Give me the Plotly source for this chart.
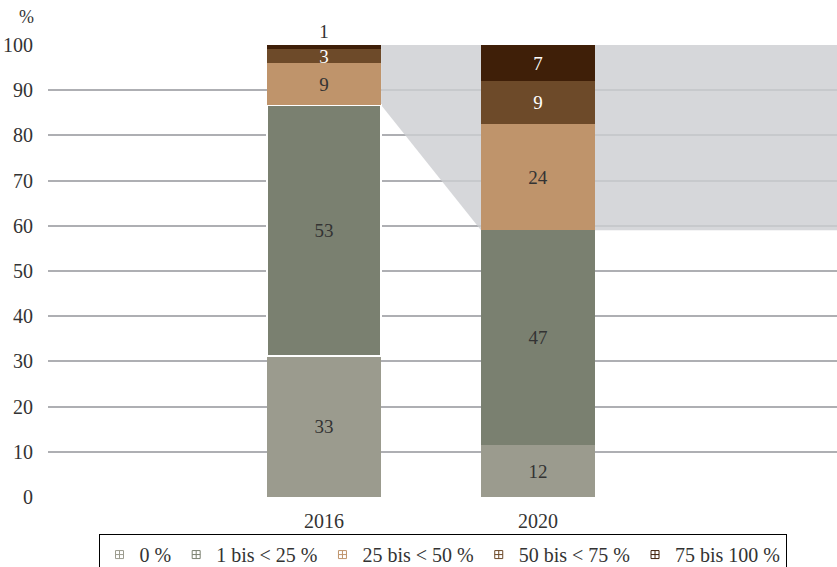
import plotly.graph_objects as go

years = ["2016", "2020"]
series_names = ["0 %", "1 bis < 25 %", "25 bis < 50 %", "50 bis < 75 %", "75 bis 100 %"]
# segment heights in %
heights = {
    "0 %": [31.2, 11.5],
    "1 bis < 25 %": [55.5, 47.5],
    "25 bis < 50 %": [9.3, 23.5],
    "50 bis < 75 %": [3.1, 9.5],
    "75 bis 100 %": [0.9, 8.0],
}
# printed labels
labels = {
    "0 %": [33, 12],
    "1 bis < 25 %": [53, 47],
    "25 bis < 50 %": [9, 24],
    "50 bis < 75 %": [3, 9],
    "75 bis 100 %": [1, 7],
}
colors = {
    "0 %": "#9B9B8E",
    "1 bis < 25 %": "#7A8070",
    "25 bis < 50 %": "#BF946B",
    "50 bis < 75 %": "#6D4A29",
    "75 bis 100 %": "#3F1F08",
}
label_colors = {
    "0 %": ["#333333", "#333333"],
    "1 bis < 25 %": ["#333333", "#333333"],
    "25 bis < 50 %": ["#333333", "#333333"],
    "50 bis < 75 %": ["#FFFFFF", "#FFFFFF"],
    "75 bis 100 %": ["#333333", "#FFFFFF"],
}
y_ticks = list(range(0, 101, 10))

FONT = "Liberation Serif"
xpos = [0, 1]
bar_w = 0.533
x_range = [-1.29, 2.397]

fig = go.Figure()
for name in series_names:
    last = name == series_names[-1]
    line_w = [2, 0] if name == "1 bis < 25 %" else [0, 0]
    fig.add_trace(go.Bar(
        x=xpos, y=heights[name], name=name, width=bar_w,
        marker=dict(color=colors[name], line=dict(color="white", width=line_w)),
        text=[str(v) for v in labels[name]],
        textposition=["outside", "inside"] if last else "inside",
        insidetextanchor="middle",
        constraintext="none",
        textangle=0,
        textfont=dict(family=FONT, size=19, color=label_colors[name]),
        outsidetextfont=dict(family=FONT, size=19, color="#333333"),
        cliponaxis=False,
        showlegend=False,
        hoverinfo="skip",
    ))
    fig.add_trace(go.Scatter(
        x=[None], y=[None], mode="markers", name=name,
        marker=dict(symbol="square-cross-open", size=8, color=colors[name], line=dict(width=1)),
        showlegend=True,
    ))

# highlight polygon between the top of "1 bis < 25 %" stacks
cum16 = heights["0 %"][0] + heights["1 bis < 25 %"][0]
cum20 = heights["0 %"][1] + heights["1 bis < 25 %"][1]
x0 = xpos[0] + bar_w / 2
x1 = xpos[1] - bar_w / 2
path = (f"M {x0},100 L {x0},{cum16} L {x1},{cum20} L {x_range[1]},{cum20} "
        f"L {x_range[1]},100 Z")
fig.add_shape(type="path", path=path, xref="x", yref="y",
              fillcolor="rgba(205,206,210,0.82)", line=dict(width=0), layer="between")

fig.add_annotation(text="%", xref="paper", yref="paper", x=-0.027, y=1.062,
                   showarrow=False, xanchor="center", yanchor="middle",
                   font=dict(family=FONT, size=18, color="#333333"))

fig.update_layout(
    barmode="stack",
    width=837, height=567,
    margin=dict(l=48, r=0, t=45, b=70, autoexpand=False),
    plot_bgcolor="white", paper_bgcolor="white",
    font=dict(family=FONT, size=20, color="#333333"),
    xaxis=dict(range=x_range, tickvals=xpos, ticktext=years, showgrid=False,
               zeroline=False, showline=False, ticks="outside", ticklen=6,
               tickcolor="rgba(0,0,0,0)", tickfont=dict(family=FONT, size=20, color="#333333"),
               fixedrange=True),
    yaxis=dict(range=[0, 100], tickvals=y_ticks, showgrid=True, gridcolor="#AEAFB3",
               gridwidth=2, zeroline=False, showline=False, ticks="outside", ticklen=10,
               tickcolor="rgba(0,0,0,0)", tickfont=dict(family=FONT, size=20, color="#333333"),
               fixedrange=True),
    legend=dict(orientation="h", x=0.5, xanchor="center", y=-0.082, yanchor="top",
                traceorder="normal",
                bordercolor="black", borderwidth=1,
                font=dict(family=FONT, size=20, color="#333333")),
)

fig.write_html("out.html", config={"displayModeBar": False},
               post_script="document.body.style.margin='0';document.body.style.overflow='hidden';")
